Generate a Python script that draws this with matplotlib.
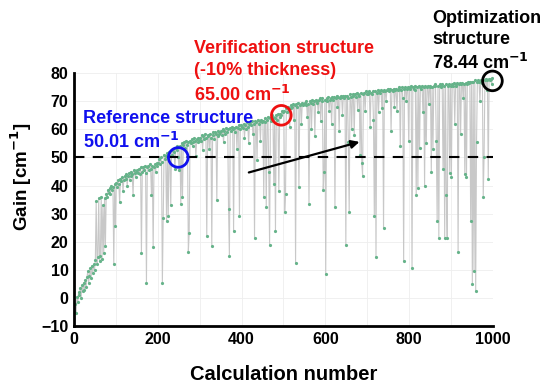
import numpy as np
import matplotlib
matplotlib.use("Agg")
import matplotlib.pyplot as plt

plt.rcParams['font.family'] = ['Liberation Sans', 'DejaVu Sans']
plt.rcParams['font.weight'] = 'bold'

# gain per calculation (every 2nd calculation, 25 values per row = 50 calculations)
gain = [
    -4.5, -2.0, -5.5, 0.5, -1.5, 2.0, 1.0, 3.5, 0.0, 4.5, 2.5, 5.5, 3.0, 6.5, 4.0, 7.5, 9.5, 5.5, 8.0, 10.5, 7.0, 11.5, 9.0, 12.0, 10.0,
    13.5, 34.5, 12.0, 14.5, 35.5, 13.0, 15.0, 36.0, 14.0, 33.0, 16.0, 35.5, 18.5, 37.0, 36.0, 38.5, 37.5, 39.0, 37.0, 40.0, 38.5, 39.5, 12.0, 40.5, 25.5,
    41.0, 39.5, 42.0, 40.5, 34.0, 42.5, 41.5, 43.0, 38.0, 42.0, 43.5, 42.5, 44.0, 40.0, 43.5, 44.5, 42.0, 45.0, 43.5, 44.0, 36.5, 45.5, 44.5, 43.0, 45.0,
    45.5, 44.5, 46.0, 44.0, 46.5, 16.0, 45.0, 46.5, 45.5, 47.0, 44.5, 5.5, 46.5, 47.0, 45.5, 47.5, 46.0, 36.5, 47.0, 18.0, 46.5, 47.5, 45.0, 48.0, 47.0,
    48.0, 49.5, 47.5, 50.0, 48.5, 5.5, 28.5, 51.0, 49.5, 50.5, 27.5, 51.5, 29.0, 52.0, 50.5, 33.0, 52.5, 51.0, 53.0, 52.0, 46.0, 53.5, 52.5, 54.0, 50.01,
    45.5, 54.0, 33.5, 55.0, 36.0, 54.5, 55.5, 53.5, 56.0, 54.5, 55.5, 16.5, 23.0, 56.0, 55.0, 56.5, 54.0, 55.5, 57.0, 56.0, 50.5, 56.5, 55.5, 57.0, 56.0,
    57.0, 56.0, 58.0, 52.5, 57.5, 56.5, 58.5, 57.0, 22.0, 58.0, 57.5, 53.0, 58.5, 57.0, 18.5, 59.0, 58.0, 56.5, 59.0, 58.5, 35.0, 59.5, 57.5, 58.5, 59.0,
    59.5, 58.0, 60.0, 55.5, 59.5, 58.5, 60.5, 59.0, 60.0, 31.5, 15.0, 60.5, 59.5, 61.0, 60.0, 24.0, 60.5, 59.0, 61.0, 53.0, 60.5, 61.5, 29.0, 60.0, 61.5,
    61.0, 60.5, 62.0, 57.0, 61.5, 60.0, 62.5, 61.0, 55.0, 62.0, 62.5, 61.5, 63.0, 58.5, 62.0, 21.5, 63.0, 62.5, 49.0, 63.5, 62.0, 63.0, 56.0, 63.5, 62.5,
    63.0, 36.0, 64.0, 62.5, 32.5, 63.5, 64.5, 45.0, 19.0, 64.0, 63.0, 65.0, 64.5, 40.5, 64.0, 24.0, 65.0, 63.5, 65.5, 38.0, 64.5, 65.5, 65.0, 66.5, 66.0,
    66.5, 30.5, 37.0, 67.5, 66.0, 68.0, 67.0, 61.0, 68.5, 67.5, 68.0, 69.0, 63.5, 68.5, 12.5, 69.0, 68.0, 69.5, 39.5, 68.5, 69.0, 62.0, 69.5, 68.5, 69.0,
    69.5, 68.5, 70.0, 64.5, 69.0, 33.5, 70.0, 69.5, 60.0, 70.5, 69.0, 70.0, 57.5, 70.5, 69.5, 70.0, 66.0, 70.5, 71.0, 63.0, 70.0, 71.0, 38.5, 45.0, 70.5,
    8.5, 71.0, 70.0, 71.5, 66.5, 70.5, 71.0, 62.0, 71.5, 70.5, 71.5, 32.5, 71.0, 72.0, 68.0, 71.5, 59.5, 71.0, 72.0, 71.5, 65.0, 72.0, 71.0, 72.0, 19.0,
    72.0, 71.0, 55.5, 30.5, 72.5, 71.5, 60.0, 72.5, 72.0, 58.0, 72.5, 71.5, 73.0, 67.0, 72.5, 72.0, 51.0, 73.0, 48.0, 43.5, 72.5, 73.0, 66.5, 73.5, 72.5,
    73.0, 72.5, 73.5, 61.0, 73.0, 72.5, 73.5, 63.5, 29.0, 73.5, 14.5, 73.0, 74.0, 66.0, 73.5, 73.0, 74.0, 67.5, 73.5, 25.0, 74.0, 73.5, 70.0, 74.0, 74.5,
    74.0, 73.5, 74.5, 59.5, 74.0, 73.5, 74.5, 68.0, 74.0, 74.5, 66.5, 74.0, 75.0, 74.5, 54.0, 74.0, 75.0, 71.0, 13.0, 74.5, 75.0, 70.0, 74.5, 75.0, 56.0,
    75.0, 74.5, 75.5, 10.5, 75.0, 74.5, 75.5, 74.0, 36.5, 75.0, 39.0, 75.5, 53.5, 75.0, 74.5, 75.5, 66.0, 75.0, 40.0, 75.5, 55.0, 75.0, 75.5, 69.0, 75.0,
    75.5, 45.0, 75.0, 53.0, 75.5, 76.0, 75.5, 56.0, 27.5, 75.5, 21.5, 76.0, 75.0, 75.5, 76.0, 46.0, 75.5, 21.5, 76.0, 36.5, 21.5, 75.5, 76.0, 44.5, 75.5,
    43.0, 76.0, 75.5, 76.5, 62.0, 76.0, 75.5, 76.5, 16.5, 76.0, 76.5, 58.5, 76.0, 76.5, 71.0, 76.0, 44.0, 76.5, 43.0, 76.0, 77.0, 76.5, 77.0, 27.5, 77.0,
    5.0, 77.0, 9.5, 77.5, 2.5, 55.5, 77.0, 77.5, 77.0, 70.0, 77.5, 76.5, 77.5, 36.0, 50.0, 77.5, 78.0, 74.0, 77.5, 42.5, 78.0, 77.5, 78.0, 76.0, 78.44,
]
calc = np.arange(1, 2 * len(gain) + 1, 2)

# highlighted structures
ref_x, ref_y = 249, 50.01
ver_x, ver_y = 495, 65.00
opt_x, opt_y = 999, 78.44

fig = plt.figure(figsize=(5.44, 3.85), dpi=100)
ax = fig.add_axes([0.136, 0.153, 0.770, 0.657])

ax.plot(calc, gain, color='#c8c8c8', lw=0.8, zorder=1)
ax.plot(calc, gain, 'o', color='#66b38a', ms=2.3, mec='none', zorder=2)
ax.axhline(50, color='black', ls=(0, (5, 4)), lw=1.5, zorder=3)

ax.scatter([ref_x], [ref_y], s=200, facecolors='none', edgecolors='#1010ee', lw=2, zorder=4)
ax.scatter([ver_x], [ver_y], s=200, facecolors='none', edgecolors='#ee1010', lw=2, zorder=4)
ax.scatter([opt_x], [opt_y - 1.2], s=200, facecolors='none', edgecolors='black', lw=2, zorder=4, clip_on=False)

ax.annotate('', xy=(688, 55.8), xytext=(411, 44.4),
            arrowprops=dict(arrowstyle='-|>', color='black', lw=1.6, mutation_scale=12))

ax.text(21, 66.8, 'Reference structure\n50.01 cm$^{\\mathbf{-1}}$', color='#1010ee',
        fontsize=13, fontweight='bold', va='top', ha='left', linespacing=1.3)
ax.text(286, 91.7, 'Verification structure\n(-10% thickness)\n65.00 cm$^{\\mathbf{-1}}$', color='#ee1010',
        fontsize=13, fontweight='bold', va='top', ha='left', linespacing=1.35)
ax.text(855, 102.4, 'Optimization\nstructure\n78.44 cm$^{\\mathbf{-1}}$', color='black',
        fontsize=13, fontweight='bold', va='top', ha='left', linespacing=1.3)

ax.set_xlim(0, 1000)
ax.set_ylim(-10, 80)
ax.set_xticks(range(0, 1001, 200))
ax.set_yticks(range(-10, 81, 10))
ax.set_xticks(range(0, 1001, 100), minor=True)
ax.grid(True, which='both', color='#eeeeee', lw=0.6)
ax.set_axisbelow(True)
ax.tick_params(length=0, labelsize=11.5, pad=4, which='both')
for lab in ax.get_xticklabels() + ax.get_yticklabels():
    lab.set_fontweight('bold')
for s in ['top', 'right']:
    ax.spines[s].set_visible(False)
for s in ['left', 'bottom']:
    ax.spines[s].set_linewidth(2)

ax.set_xlabel('Calculation number', fontsize=14.5, fontweight='bold', labelpad=13)
ax.set_ylabel('Gain [cm$^{\\mathbf{-1}}$]', fontsize=13.5, fontweight='bold')
ax.yaxis.set_label_coords(-0.095, 0.59)

fig.savefig('out.png', dpi=100)
